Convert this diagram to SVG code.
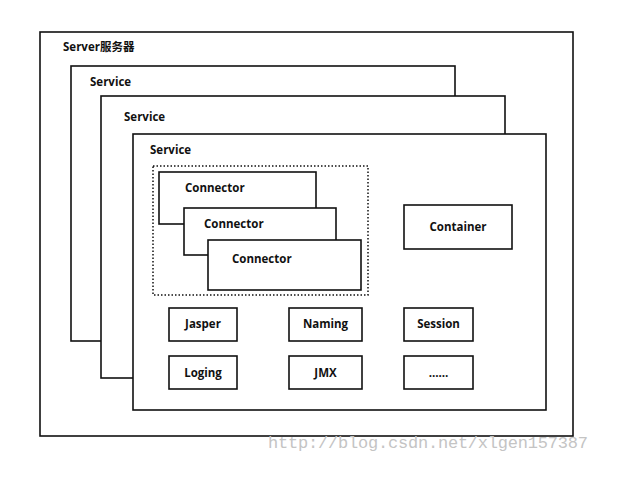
<svg xmlns="http://www.w3.org/2000/svg" width="638" height="480" viewBox="0 0 638 480">
  <style>
    .box { fill: #ffffff; stroke: #111111; stroke-width: 1.6; }
    .dot { fill: none; stroke: #111111; stroke-width: 1.5; stroke-dasharray: 1.5 2; }
    .lbl { font-family: "Open Sans", "Noto Sans CJK SC", sans-serif; font-weight: bold; font-size: 11.5px; fill: #111111; }
    .mid { text-anchor: middle; }
    .wm { font-family: "Liberation Mono", "DejaVu Sans Mono", monospace; font-size: 17px; fill: #c4c4c4; }
  </style>
  <rect width="638" height="480" fill="#ffffff"/>

  <g id="server">
    <rect class="box" x="40" y="32" width="533" height="404"/>
    <text class="lbl" x="63" y="51">Server服务器</text>
  </g>
  <g id="service1">
    <rect class="box" x="71" y="66" width="384" height="275"/>
    <text class="lbl" x="90" y="86">Service</text>
  </g>
  <g id="service2">
    <rect class="box" x="101" y="96" width="404" height="282"/>
    <text class="lbl" x="124" y="121">Service</text>
  </g>
  <g id="service3">
    <rect class="box" x="133" y="134" width="413" height="276"/>
    <text class="lbl" x="150" y="154">Service</text>
  </g>

  <g id="connectors-group">
    <rect class="dot" x="153" y="166" width="215" height="129"/>
  </g>
  <g id="connector1">
    <rect class="box" x="159" y="172" width="157" height="52"/>
    <text class="lbl" x="185" y="192">Connector</text>
  </g>
  <g id="connector2">
    <rect class="box" x="184" y="208" width="152" height="47"/>
    <text class="lbl" x="204" y="228">Connector</text>
  </g>
  <g id="connector3">
    <rect class="box" x="208" y="240" width="153" height="50"/>
    <text class="lbl" x="232" y="263">Connector</text>
  </g>

  <g id="container">
    <rect class="box" x="404" y="205" width="108" height="44"/>
    <text class="lbl mid" x="458" y="231">Container</text>
  </g>

  <g id="jasper">
    <rect class="box" x="169" y="308" width="68" height="33"/>
    <text class="lbl mid" x="203" y="328">Jasper</text>
  </g>
  <g id="naming">
    <rect class="box" x="289" y="308" width="73" height="33"/>
    <text class="lbl mid" x="325.5" y="328">Naming</text>
  </g>
  <g id="session">
    <rect class="box" x="404" y="308" width="69" height="33"/>
    <text class="lbl mid" x="438.5" y="328">Session</text>
  </g>
  <g id="loging">
    <rect class="box" x="169" y="356" width="68" height="33"/>
    <text class="lbl mid" x="203" y="377">Loging</text>
  </g>
  <g id="jmx">
    <rect class="box" x="289" y="356" width="73" height="33"/>
    <text class="lbl mid" x="325.5" y="377">JMX</text>
  </g>
  <g id="more">
    <rect class="box" x="404" y="356" width="69" height="33"/>
    <text class="lbl mid" x="438.5" y="377">……</text>
  </g>

  <text class="wm" x="268" y="448" textLength="320">http://blog.csdn.net/xlgen157387</text>
</svg>
